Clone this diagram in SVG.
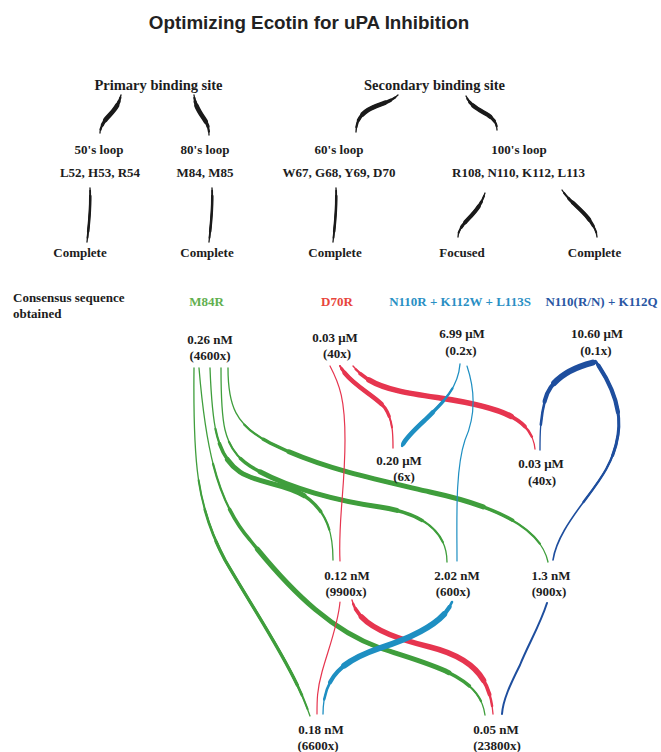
<svg xmlns="http://www.w3.org/2000/svg" width="661" height="752" viewBox="0 0 661 752">
<style>
.title{font-family:"Liberation Sans",Arial,sans-serif;font-weight:bold;font-size:18.8px;fill:#222;text-anchor:middle}
.t{font-family:"Liberation Serif","Times New Roman",serif;font-weight:bold;font-size:13px;fill:#1c1c1c;text-anchor:middle}
.h{font-size:14.5px}
.l{text-anchor:start}
.cg{fill:#62b04f}.cr{fill:#e8453c}.cc{fill:#2a8fc4}.cb{fill:#2956a3}
.s{fill:none;stroke-linecap:round}
.blk{stroke:#1a1a1a}.grn{stroke:#3f9e3c}.red{stroke:#e6354f}.cya{stroke:#1e8fc2}.blu{stroke:#1e4e9e}
.w0{stroke-width:1.3}
</style>
<defs>
<path id="pT1" pathLength="100" d="M121,95 C118,110 108,115 104,122 C101,127 100,130 100,133"/>
<path id="pT2" pathLength="100" d="M194,95 C195,108 202,115 206,122 C209,127 209,131 209,135"/>
<path id="pT3" pathLength="100" d="M398,95 C390,103 378,104 368,110 C360,115 356,122 356,132"/>
<path id="pT4" pathLength="100" d="M466,96 C470,106 480,110 488,115 C495,120 497,124 497,130"/>
<path id="pT5" pathLength="100" d="M90,188 C91,205 89,225 87,242"/>
<path id="pT6" pathLength="100" d="M212,188 C213,205 211,225 209,242"/>
<path id="pT7" pathLength="100" d="M336,188 C337,205 335,225 333,242"/>
<path id="pT8" pathLength="100" d="M485,193 C480,210 468,218 463,225 C460,229 458,232 458,237"/>
<path id="pT9" pathLength="100" d="M562,190 C568,200 580,208 588,218 C594,226 597,232 597,237"/>
<path id="pG1" pathLength="100" d="M194,368 C193,460 196,505 225,560 C255,612 295,670 310,716"/>
<path id="pG2" pathLength="100" d="M199,368 C205,440 215,500 250,540 C290,590 330,630 380,648 C430,665 480,675 485,715"/>
<path id="pG3" pathLength="100" d="M210,368 C212,420 215,455 240,472 C260,485 290,483 310,500 C328,515 333,535 333,560"/>
<path id="pG4" pathLength="100" d="M221,368 C221,420 222,448 250,466 C280,485 330,500 380,507 C420,513 447,530 447,562"/>
<path id="pG5" pathLength="100" d="M228,368 C228,405 235,425 270,443 C320,468 370,478 430,492 C490,505 540,525 548,562"/>
<path id="pR1" pathLength="100" d="M330,366 C340,385 345,400 345,440 C345,490 338,520 340,561"/>
<path id="pR2" pathLength="100" d="M340,366 C350,385 375,395 385,408 C393,420 393,435 393,448"/>
<path id="pR3" pathLength="100" d="M353,366 C370,388 400,392 440,398 C500,407 532,418 535,449"/>
<path id="pR4" pathLength="100" d="M340,602 C338,625 328,650 322,672 C317,690 317,700 317,714"/>
<path id="pR5" pathLength="100" d="M352,600 C358,625 390,637 430,647 C470,657 490,675 493,714"/>
<path id="pC1" pathLength="100" d="M460,364 C458,390 440,405 425,420 C412,432 406,438 402,446"/>
<path id="pC2" pathLength="100" d="M467,366 C475,390 476,415 465,440 C455,470 457,520 457,561"/>
<path id="pC3" pathLength="100" d="M452,602 C445,620 420,635 380,648 C345,660 323,675 323,714"/>
<path id="pB1" pathLength="100" d="M595,362 C570,368 550,380 545,400 C540,420 540,435 540,450"/>
<path id="pB2" pathLength="100" d="M596,362 C612,385 622,410 618,435 C614,462 600,480 585,500 C570,520 556,540 553,560"/>
<path id="pB3" pathLength="100" d="M547,603 C540,625 528,645 520,665 C510,685 503,700 502,714"/>
</defs>
<rect width="661" height="752" fill="#fff"/>
<text class="title" x="309" y="29">Optimizing Ecotin for uPA Inhibition</text>

<g id="connectors">
<g class="s blk">
<use href="#pT1" class="w0"/><use href="#pT1" style="stroke-width:2.2;stroke-dasharray:86 300;stroke-dashoffset:-6"/><use href="#pT1" style="stroke-width:3.3;stroke-dasharray:65 300;stroke-dashoffset:-15"/><use href="#pT1" style="stroke-width:4.6;stroke-dasharray:43 300;stroke-dashoffset:-25"/>
<use href="#pT2" class="w0"/><use href="#pT2" style="stroke-width:2.2;stroke-dasharray:86 300;stroke-dashoffset:-6"/><use href="#pT2" style="stroke-width:3.3;stroke-dasharray:65 300;stroke-dashoffset:-15"/><use href="#pT2" style="stroke-width:4.6;stroke-dasharray:43 300;stroke-dashoffset:-25"/>
<use href="#pT3" class="w0"/><use href="#pT3" style="stroke-width:2.2;stroke-dasharray:86 300;stroke-dashoffset:-6"/><use href="#pT3" style="stroke-width:3.3;stroke-dasharray:65 300;stroke-dashoffset:-15"/><use href="#pT3" style="stroke-width:4.6;stroke-dasharray:43 300;stroke-dashoffset:-25"/>
<use href="#pT4" class="w0"/><use href="#pT4" style="stroke-width:2.2;stroke-dasharray:86 300;stroke-dashoffset:-6"/><use href="#pT4" style="stroke-width:3.2;stroke-dasharray:65 300;stroke-dashoffset:-15"/><use href="#pT4" style="stroke-width:4.3;stroke-dasharray:43 300;stroke-dashoffset:-25"/>
<use href="#pT5" class="w0"/><use href="#pT5" style="stroke-width:1.8;stroke-dasharray:87 300;stroke-dashoffset:-5"/><use href="#pT5" style="stroke-width:2.5;stroke-dasharray:65 300;stroke-dashoffset:-15"/>
<use href="#pT6" class="w0"/><use href="#pT6" style="stroke-width:1.8;stroke-dasharray:87 300;stroke-dashoffset:-5"/><use href="#pT6" style="stroke-width:2.5;stroke-dasharray:65 300;stroke-dashoffset:-15"/>
<use href="#pT7" class="w0"/><use href="#pT7" style="stroke-width:1.8;stroke-dasharray:87 300;stroke-dashoffset:-5"/><use href="#pT7" style="stroke-width:2.5;stroke-dasharray:65 300;stroke-dashoffset:-15"/>
<use href="#pT8" class="w0"/><use href="#pT8" style="stroke-width:2;stroke-dasharray:86 300;stroke-dashoffset:-6"/><use href="#pT8" style="stroke-width:3;stroke-dasharray:62 300;stroke-dashoffset:-18"/><use href="#pT8" style="stroke-width:4;stroke-dasharray:40 300;stroke-dashoffset:-28"/>
<use href="#pT9" class="w0"/><use href="#pT9" style="stroke-width:2;stroke-dasharray:86 300;stroke-dashoffset:-6"/><use href="#pT9" style="stroke-width:3;stroke-dasharray:62 300;stroke-dashoffset:-18"/><use href="#pT9" style="stroke-width:4;stroke-dasharray:40 300;stroke-dashoffset:-28"/>
</g>
<g class="s grn">
<use href="#pG1" class="w0"/><use href="#pG1" style="stroke-width:2;stroke-dasharray:68 300;stroke-dashoffset:-30"/><use href="#pG1" style="stroke-width:2.6;stroke-dasharray:56 300;stroke-dashoffset:-38"/><use href="#pG1" style="stroke-width:3.2;stroke-dasharray:44 300;stroke-dashoffset:-47"/>
<use href="#pG2" class="w0"/><use href="#pG2" style="stroke-width:2.2;stroke-dasharray:77 300;stroke-dashoffset:-20"/><use href="#pG2" style="stroke-width:3.5;stroke-dasharray:63 300;stroke-dashoffset:-30"/><use href="#pG2" style="stroke-width:5;stroke-dasharray:48 300;stroke-dashoffset:-40"/>
<use href="#pG3" class="w0"/><use href="#pG3" style="stroke-width:2.2;stroke-dasharray:64 300;stroke-dashoffset:-24"/><use href="#pG3" style="stroke-width:3.5;stroke-dasharray:50 300;stroke-dashoffset:-30"/><use href="#pG3" style="stroke-width:5;stroke-dasharray:34 300;stroke-dashoffset:-37"/>
<use href="#pG4" class="w0"/><use href="#pG4" style="stroke-width:2.2;stroke-dasharray:72 300;stroke-dashoffset:-22"/><use href="#pG4" style="stroke-width:3.5;stroke-dasharray:57 300;stroke-dashoffset:-28"/><use href="#pG4" style="stroke-width:5;stroke-dasharray:42 300;stroke-dashoffset:-35"/>
<use href="#pG5" class="w0"/><use href="#pG5" style="stroke-width:2.2;stroke-dasharray:80 300;stroke-dashoffset:-15"/><use href="#pG5" style="stroke-width:3.5;stroke-dasharray:65 300;stroke-dashoffset:-21"/><use href="#pG5" style="stroke-width:5;stroke-dasharray:50 300;stroke-dashoffset:-28"/>
</g>
<g class="s red">
<use href="#pR1" style="stroke-width:1.2"/>
<use href="#pR2" class="w0"/><use href="#pR2" style="stroke-width:2;stroke-dasharray:80 300;stroke-dashoffset:0"/><use href="#pR2" style="stroke-width:3.2;stroke-dasharray:66 300;stroke-dashoffset:-3"/><use href="#pR2" style="stroke-width:4.5;stroke-dasharray:47 300;stroke-dashoffset:-8"/>
<use href="#pR3" class="w0"/><use href="#pR3" style="stroke-width:2.4;stroke-dasharray:92 300;stroke-dashoffset:-2"/><use href="#pR3" style="stroke-width:3.8;stroke-dasharray:83 300;stroke-dashoffset:-5"/><use href="#pR3" style="stroke-width:5.5;stroke-dasharray:70 300;stroke-dashoffset:-10"/>
<use href="#pR4" style="stroke-width:1.2"/>
<use href="#pR5" class="w0"/><use href="#pR5" style="stroke-width:2.4;stroke-dasharray:94 300;stroke-dashoffset:-2"/><use href="#pR5" style="stroke-width:3.8;stroke-dasharray:85 300;stroke-dashoffset:-5"/><use href="#pR5" style="stroke-width:5.5;stroke-dasharray:72 300;stroke-dashoffset:-10"/>
</g>
<g class="s cya">
<use href="#pC1" class="w0"/><use href="#pC1" style="stroke-width:2.2;stroke-dasharray:75 300;stroke-dashoffset:-25"/><use href="#pC1" style="stroke-width:3.2;stroke-dasharray:59 300;stroke-dashoffset:-40"/><use href="#pC1" style="stroke-width:4.5;stroke-dasharray:42 300;stroke-dashoffset:-55"/>
<use href="#pC2" style="stroke-width:1.2"/>
<use href="#pC3" class="w0"/><use href="#pC3" style="stroke-width:2.6;stroke-dasharray:92 300;stroke-dashoffset:0"/><use href="#pC3" style="stroke-width:4.2;stroke-dasharray:79 300;stroke-dashoffset:-3"/><use href="#pC3" style="stroke-width:6;stroke-dasharray:62 300;stroke-dashoffset:-8"/>
</g>
<g class="s blu">
<use href="#pB1" class="w0"/><use href="#pB1" style="stroke-width:2.6;stroke-dasharray:78 300;stroke-dashoffset:0"/><use href="#pB1" style="stroke-width:4.2;stroke-dasharray:58 300;stroke-dashoffset:0"/><use href="#pB1" style="stroke-width:6;stroke-dasharray:38 300;stroke-dashoffset:-2"/>
<use href="#pB2" style="stroke-width:1.6"/><use href="#pB2" style="stroke-width:2.3;stroke-dasharray:70 300;stroke-dashoffset:0"/><use href="#pB2" style="stroke-width:3;stroke-dasharray:45 300;stroke-dashoffset:0"/><use href="#pB2" style="stroke-width:4.2;stroke-dasharray:23 300;stroke-dashoffset:-2"/>
<use href="#pB3" style="stroke-width:2"/>
</g>
</g>

<g id="primary"><text class="t h" x="158.5" y="90">Primary binding site</text></g>
<g id="secondary"><text class="t h" x="434.5" y="90">Secondary binding site</text></g>
<g id="loop50"><text class="t" x="99" y="154">50's loop</text><text class="t" x="100" y="177">L52, H53, R54</text></g>
<g id="loop80"><text class="t" x="205" y="154">80's loop</text><text class="t" x="205" y="177">M84, M85</text></g>
<g id="loop60"><text class="t" x="339" y="154">60's loop</text><text class="t" x="339" y="177">W67, G68, Y69, D70</text></g>
<g id="loop100"><text class="t" x="519" y="154">100's loop</text><text class="t" x="518.5" y="177">R108, N110, K112, L113</text></g>
<g id="complete50"><text class="t" x="80" y="257">Complete</text></g>
<g id="complete80"><text class="t" x="207" y="257">Complete</text></g>
<g id="complete60"><text class="t" x="335" y="257">Complete</text></g>
<g id="focused100"><text class="t" x="462" y="257">Focused</text></g>
<g id="complete100"><text class="t" x="594.5" y="257">Complete</text></g>

<g id="consensus"><text class="t l" x="13" y="302">Consensus sequence</text><text class="t l" x="13" y="318">obtained</text></g>
<g id="m84r"><text class="t cg" x="206.5" y="306">M84R</text></g>
<g id="d70r"><text class="t cr" x="337" y="306">D70R</text></g>
<g id="n110r"><text class="t cc" x="460" y="306">N110R + K112W + L113S</text></g>
<g id="n110rn"><text class="t cb" x="601.5" y="306">N110(R/N) + K112Q</text></g>

<g id="v026"><text class="t" x="210" y="344">0.26 nM</text><text class="t" x="210" y="360">(4600x)</text></g>
<g id="v003a"><text class="t" x="335" y="342">0.03 μM</text><text class="t" x="337" y="358">(40x)</text></g>
<g id="v699"><text class="t" x="462" y="338">6.99 μM</text><text class="t" x="461" y="355">(0.2x)</text></g>
<g id="v1060"><text class="t" x="597" y="338">10.60 μM</text><text class="t" x="596" y="355">(0.1x)</text></g>
<g id="v020"><text class="t" x="399" y="465">0.20 μM</text><text class="t" x="404" y="481">(6x)</text></g>
<g id="v003b"><text class="t" x="541" y="468">0.03 μM</text><text class="t" x="542" y="485">(40x)</text></g>
<g id="v012"><text class="t" x="347" y="580">0.12 nM</text><text class="t" x="346" y="596">(9900x)</text></g>
<g id="v202"><text class="t" x="457" y="580">2.02 nM</text><text class="t" x="453" y="596">(600x)</text></g>
<g id="v13"><text class="t" x="551" y="580">1.3 nM</text><text class="t" x="549" y="596">(900x)</text></g>
<g id="v018"><text class="t" x="321" y="734">0.18 nM</text><text class="t" x="318" y="750">(6600x)</text></g>
<g id="v005"><text class="t" x="496" y="734">0.05 nM</text><text class="t" x="497" y="750">(23800x)</text></g>
</svg>
